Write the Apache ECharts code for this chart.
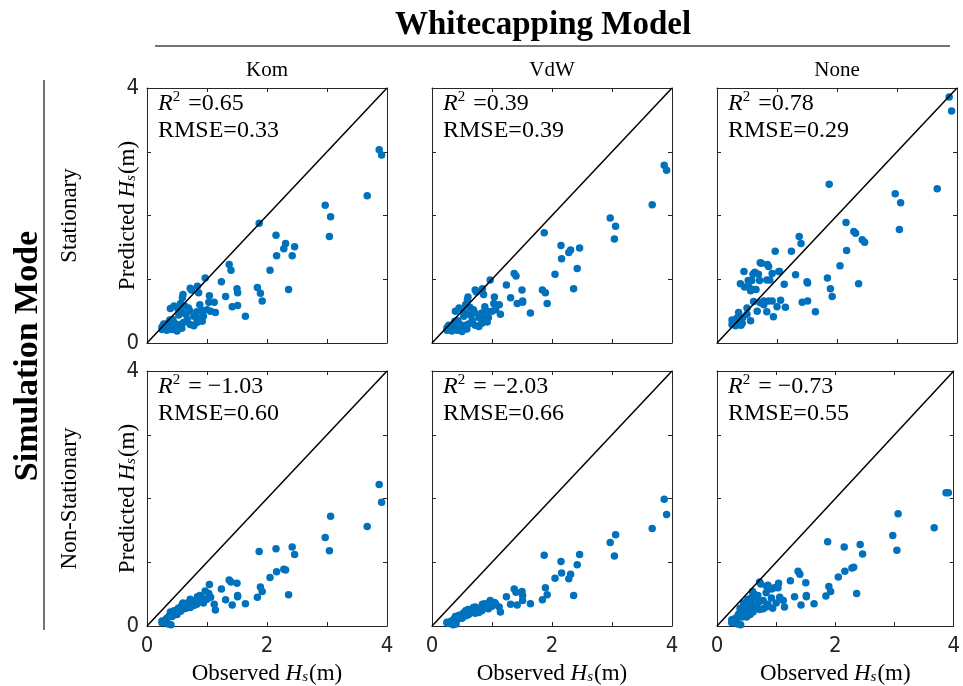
<!DOCTYPE html>
<html>
<head>
<meta charset="utf-8">
<script src="https://cdn.jsdelivr.net/npm/echarts@6/dist/echarts.min.js"></script>
<style>
  html, body { margin: 0; padding: 0; background: #fff; }
  #chart { width: 963px; height: 686px; }
</style>
</head>
<body>
<div id="chart"></div>
<script>
// observed Hs (same buoys for every panel)
const observed = [
  3.87, 3.91, 3.67, 2.97, 3.06, 3.04, 1.87, 2.15, 2.31, 2.28,
  2.46, 2.42, 2.16, 2.05, 2.36, 1.84, 1.89, 1.92, 1.37, 1.40,
  1.24, 1.50, 1.51, 1.31, 1.42, 1.51, 1.64, 0.97, 1.12, 1.14,
  1.04, 1.06,
  0.72, 0.74, 0.84, 0.86, 0.60, 0.59, 1.03, 0.56, 0.63, 0.69,
  0.39, 0.45, 0.52, 0.71, 0.58, 0.53, 0.83, 0.92, 1.00, 0.78,
  0.86, 0.94, 0.38, 0.43, 0.36, 0.67, 0.72, 0.61, 0.25, 0.31,
  0.33, 0.42, 0.50, 0.56, 0.25, 0.83, 0.92, 0.78, 0.50, 0.58,
  0.46, 0.65, 0.88, 0.28, 0.35, 0.40
];

// predicted Hs, stationary runs
const komStat = [
  3.03, 2.95, 2.31, 2.16, 1.98, 1.67, 1.88, 1.69, 1.56, 1.48,
  1.51, 1.37, 1.37, 1.14, 0.84, 0.87, 0.78, 0.66, 1.23, 1.14,
  0.96, 0.85, 0.79, 0.73, 0.57, 0.59, 0.42, 1.02, 0.64, 0.48,
  0.74, 0.50,
  0.86, 0.83, 0.89, 0.79, 0.76, 0.71, 0.64, 0.62, 0.58, 0.55,
  0.54, 0.58, 0.53, 0.51, 0.48, 0.44, 0.49, 0.51, 0.52, 0.42,
  0.39, 0.42, 0.36, 0.37, 0.32, 0.37, 0.29, 0.32, 0.25, 0.27,
  0.20, 0.21, 0.26, 0.29, 0.21, 0.32, 0.34, 0.27, 0.19, 0.23,
  0.31, 0.45, 0.60, 0.30, 0.26, 0.24
];
const vdwStat = [
  2.79, 2.71, 2.17, 1.96, 1.83, 1.63, 1.73, 1.53, 1.46, 1.42,
  1.49, 1.17, 1.32, 1.08, 0.85, 0.83, 0.79, 0.62, 1.09, 1.05,
  0.91, 0.83, 0.66, 0.71, 0.62, 0.64, 0.47, 0.99, 0.60, 0.45,
  0.72, 0.52,
  0.83, 0.80, 0.85, 0.76, 0.72, 0.68, 0.62, 0.60, 0.56, 0.52,
  0.50, 0.55, 0.50, 0.48, 0.46, 0.42, 0.47, 0.50, 0.50, 0.40,
  0.38, 0.40, 0.34, 0.35, 0.30, 0.35, 0.28, 0.30, 0.24, 0.26,
  0.19, 0.20, 0.25, 0.28, 0.20, 0.31, 0.33, 0.26, 0.18, 0.22,
  0.30, 0.43, 0.57, 0.28, 0.25, 0.23
];
const noneStat = [
  3.86, 3.64, 2.42, 2.34, 2.20, 1.78, 2.49, 1.89, 1.72, 1.75,
  1.58, 1.62, 1.45, 1.21, 0.93, 1.02, 0.85, 0.73, 1.67, 1.56,
  1.44, 0.96, 0.94, 1.07, 0.64, 0.66, 0.49, 1.44, 0.92, 0.56,
  1.12, 0.67,
  1.26, 1.25, 1.23, 1.20, 1.08, 0.84, 1.12, 0.82, 1.11, 1.08,
  0.93, 1.12, 0.98, 0.98, 0.84, 0.88, 0.99, 1.09, 0.57, 0.66,
  0.66, 0.41, 0.29, 0.40, 0.48, 0.50, 0.63, 0.65, 0.36, 0.27,
  0.39, 0.31, 0.55, 0.35, 0.29, 0.49, 0.66, 0.60, 0.45, 0.98,
  0.88, 0.84, 0.99, 0.34, 0.33, 0.28
];

// predicted Hs, non-stationary runs
const komNon = [
  2.22, 1.94, 1.56, 1.39, 1.72, 1.18, 1.17, 1.21, 0.88, 0.89,
  1.12, 1.24, 0.85, 0.76, 0.49, 0.45, 0.61, 0.54, 0.72, 0.69,
  0.58, 0.67, 0.48, 0.41, 0.33, 0.46, 0.35, 0.55, 0.34, 0.25,
  0.65, 0.45,
  0.42, 0.40, 0.46, 0.44, 0.36, 0.34, 0.51, 0.30, 0.33, 0.37,
  0.22, 0.24, 0.28, 0.35, 0.30, 0.25, 0.40, 0.44, 0.42, 0.38,
  0.41, 0.36, 0.17, 0.19, 0.14, 0.31, 0.29, 0.27, 0.08, 0.10,
  0.12, 0.15, 0.20, 0.23, 0.05, 0.34, 0.38, 0.32, 0.18, 0.26,
  0.20, 0.28, 0.48, 0.07, 0.03, 0.02
];
const vdwNon = [
  1.99, 1.75, 1.53, 1.31, 1.43, 1.10, 1.11, 1.01, 0.81, 0.74,
  1.12, 0.96, 0.83, 0.75, 0.48, 0.41, 0.60, 0.49, 0.58, 0.53,
  0.46, 0.54, 0.48, 0.34, 0.33, 0.40, 0.35, 0.40, 0.30, 0.22,
  0.37, 0.35,
  0.30, 0.28, 0.34, 0.32, 0.26, 0.22, 0.36, 0.24, 0.25, 0.29,
  0.15, 0.17, 0.20, 0.27, 0.19, 0.18, 0.30, 0.33, 0.31, 0.26,
  0.29, 0.27, 0.12, 0.14, 0.10, 0.22, 0.20, 0.18, 0.06, 0.07,
  0.08, 0.10, 0.13, 0.16, 0.05, 0.24, 0.28, 0.21, 0.12, 0.17,
  0.14, 0.21, 0.35, 0.04, 0.02, 0.03
];
const noneNon = [
  2.09, 2.09, 1.54, 1.42, 1.76, 1.19, 1.32, 1.24, 0.92, 0.91,
  1.13, 1.28, 0.86, 0.77, 0.51, 0.47, 0.62, 0.54, 0.86, 0.81,
  0.71, 0.68, 0.48, 0.46, 0.33, 0.46, 0.35, 0.60, 0.40, 0.30,
  0.67, 0.45,
  0.69, 0.66, 0.62, 0.64, 0.54, 0.45, 0.60, 0.40, 0.50, 0.48,
  0.28, 0.36, 0.42, 0.38, 0.30, 0.34, 0.52, 0.58, 0.36, 0.40,
  0.34, 0.28, 0.20, 0.24, 0.18, 0.32, 0.26, 0.22, 0.10, 0.12,
  0.08, 0.14, 0.22, 0.18, 0.05, 0.30, 0.44, 0.27, 0.14, 0.35,
  0.30, 0.44, 0.60, 0.07, 0.03, 0.02
];

const r2Values = [0.65, 0.39, 0.78, -1.03, -2.03, -0.73];
const rmseValues = [0.33, 0.39, 0.29, 0.60, 0.66, 0.55];
const colNames = ['Kom', 'VdW', 'None'];
const rowNames = ['Stationary', 'Non-Stationary'];
const xTickLabels = [0, 2, 4];
const yTickLabels = [0, 4];
const oneToOne = [[0, 0], [4, 4]];

const predicted = [komStat, vdwStat, noneStat, komNon, vdwNon, noneNon];

const SERIF = '"Liberation Serif", "DejaVu Serif", serif';
const TICKFONT = '"Liberation Sans Narrow", "DejaVu Sans Condensed", sans-serif';
const AXIS = '#262626';
const DOT = '#0072BD';

const colLeft = [147, 432, 717];
const rowTop = [88, 371];
const W = 240, H = 255;

const chart = echarts.init(document.getElementById('chart'));

const grids = [], xAxes = [], yAxes = [], series = [], graphic = [];

const hsRich = {
  h: { fontFamily: SERIF, fontSize: 23, fontStyle: 'italic', color: '#000' },
  s: { fontFamily: SERIF, fontSize: 15, fontStyle: 'italic', color: '#000', verticalAlign: 'bottom', padding: [8, 1, 0, 0] },
  n: { fontFamily: SERIF, fontSize: 23, color: '#000' }
};

predicted.forEach((pred, i) => {
  const r = Math.floor(i / 3), c = i % 3;
  grids.push({ left: colLeft[c], top: rowTop[r], width: W, height: H });

  const line = { show: true, onZero: false, lineStyle: { color: AXIS, width: 1 } };
  const tick = { show: true, inside: true, length: 4, lineStyle: { color: AXIS } };

  xAxes.push({
    gridIndex: i, type: 'value', min: 0, max: 4, interval: 1, position: 'bottom',
    axisLine: line, axisTick: tick, splitLine: { show: false },
    axisLabel: {
      show: r === 1, margin: 9, fontFamily: TICKFONT, fontSize: 22, color: AXIS,
      formatter: v => xTickLabels.includes(v) ? String(v) : ''
    },
    name: r === 1 ? '{n|Observed }{h|H}{s|s}{n|(m)}' : '',
    nameLocation: 'middle', nameGap: 36,
    nameTextStyle: { rich: hsRich }
  });
  xAxes.push({
    gridIndex: i, type: 'value', min: 0, max: 4, interval: 1, position: 'top',
    axisLine: line, axisTick: tick, axisLabel: { show: false }, splitLine: { show: false }
  });
  yAxes.push({
    gridIndex: i, type: 'value', min: 0, max: 4, interval: 1, position: 'left',
    axisLine: line, axisTick: tick, splitLine: { show: false },
    axisLabel: {
      show: c === 0, margin: 8, fontFamily: TICKFONT, fontSize: 22, color: AXIS,
      formatter: v => yTickLabels.includes(v) ? String(v) : ''
    },
    name: c === 0 ? '{n|Predicted }{h|H}{s|s}{n|(m)}' : '',
    nameLocation: 'middle', nameGap: 8, nameRotate: 90, nameMoveOverlap: false,
    nameTextStyle: { rich: hsRich }
  });
  yAxes.push({
    gridIndex: i, type: 'value', min: 0, max: 4, interval: 1, position: 'right',
    axisLine: line, axisTick: tick, axisLabel: { show: false }, splitLine: { show: false }
  });

  series.push({
    type: 'line', xAxisIndex: 2 * i, yAxisIndex: 2 * i,
    data: oneToOne, symbol: 'none', silent: true,
    lineStyle: { color: '#000', width: 1.5 }, z: 3
  });
  series.push({
    type: 'scatter', xAxisIndex: 2 * i, yAxisIndex: 2 * i,
    data: observed.map((o, k) => [o, pred[k]]),
    symbolSize: 7.5, itemStyle: { color: DOT, opacity: 1 }, z: 2
  });

  const r2 = r2Values[i];
  const r2Text = r2 < 0 ? ' = \u2212' + Math.abs(r2).toFixed(2) : ' =' + r2.toFixed(2);
  graphic.push({
    type: 'text', left: colLeft[c] + 11, top: rowTop[r] + 2, z: 10,
    style: {
      text: '{r|R}{sup|2}{t|' + r2Text + '}\n{t|RMSE=' + rmseValues[i].toFixed(2) + '}',
      rich: {
        r: { fontFamily: SERIF, fontSize: 24, fontStyle: 'italic', lineHeight: 27, fill: '#000' },
        sup: { fontFamily: SERIF, fontSize: 15, verticalAlign: 'top', lineHeight: 15, fill: '#000', padding: [0, 2, 0, 0] },
        t: { fontFamily: SERIF, fontSize: 24, lineHeight: 27, fill: '#000' }
      }
    }
  });
});

// column headings
colNames.forEach((n, c) => {
  graphic.push({
    type: 'text', x: colLeft[c] + W / 2, y: 70,
    style: { text: n, font: '21px ' + SERIF, fill: '#000', textAlign: 'center', textVerticalAlign: 'middle' }
  });
});
// row headings
rowNames.forEach((n, r) => {
  graphic.push({
    type: 'text', x: 70, y: rowTop[r] + H / 2, rotation: Math.PI / 2,
    style: { text: n, font: '23px ' + SERIF, fill: '#000', textAlign: 'center', textVerticalAlign: 'middle' }
  });
});

graphic.push(
  {
    type: 'text', x: 543, y: 25,
    style: { text: 'Whitecapping Model', font: 'bold 33px ' + SERIF, fill: '#000', textAlign: 'center', textVerticalAlign: 'middle' }
  },
  { type: 'line', shape: { x1: 155, y1: 46, x2: 950, y2: 46 }, style: { stroke: '#444', lineWidth: 1.5 } },
  {
    type: 'text', x: 28, y: 356, rotation: Math.PI / 2,
    style: { text: 'Simulation Mode', font: 'bold 34px ' + SERIF, fill: '#000', textAlign: 'center', textVerticalAlign: 'middle' }
  },
  { type: 'line', shape: { x1: 44, y1: 80, x2: 44, y2: 630 }, style: { stroke: '#444', lineWidth: 1.5 } }
);

chart.setOption({
  animation: false,
  grid: grids,
  xAxis: xAxes,
  yAxis: yAxes,
  series: series,
  graphic: graphic
});
</script>
</body>
</html>
